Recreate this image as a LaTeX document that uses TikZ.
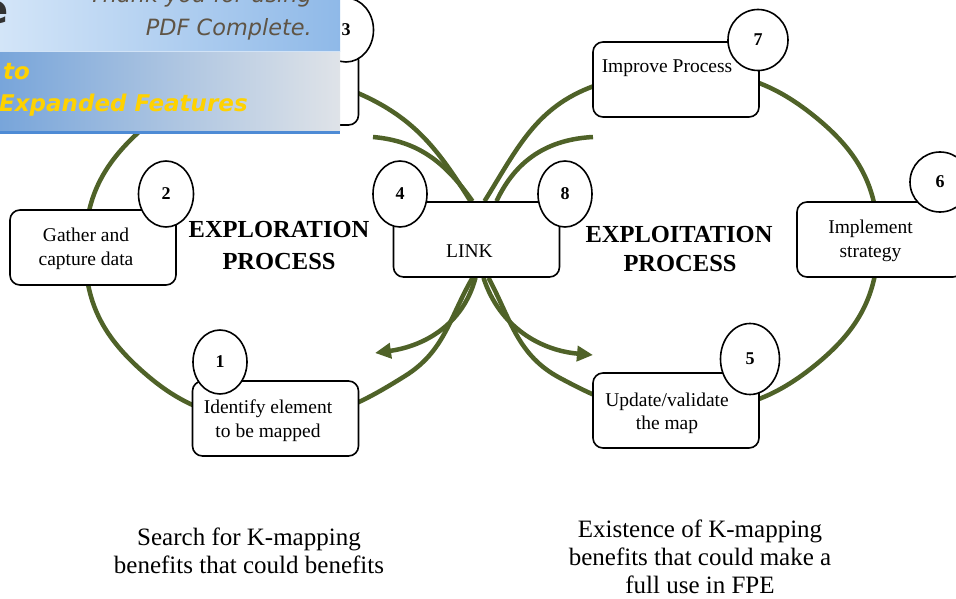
\documentclass[tikz,border=0pt]{standalone}
\usepackage{fontspec}
\setmainfont{Liberation Serif}
\newfontfamily\wmfont{DejaVu Sans}
\usetikzlibrary{arrows.meta,shapes.geometric,backgrounds}
\definecolor{lobegreen}{HTML}{4F6228}
\definecolor{wmA}{HTML}{D3E5F8}
\definecolor{wmB}{HTML}{8FB9E8}
\definecolor{wmC}{HTML}{78A5DA}
\definecolor{wmD}{HTML}{DFE3E8}
\definecolor{wmE}{HTML}{4E8BD5}
\definecolor{wmText}{HTML}{5F5445}
\definecolor{wmYellow}{HTML}{FFD200}
\begin{document}
\begin{tikzpicture}[x=1pt,y=1pt,
  lobe/.style={draw=lobegreen, line width=4.5pt},
  arr/.style={lobe, -{Triangle[length=16pt,width=15pt]}},
  box/.style={draw=black, line width=1.6pt, rounded corners=10pt, fill=white,
    minimum width=166pt, minimum height=75pt, inner sep=0pt},
  numc/.style={ellipse, draw=black, line width=1.6pt, fill=white, inner sep=0pt,
    font=\fontsize{18}{20}\selectfont\bfseries},
  btxt/.style={anchor=base, inner sep=0pt, font=\fontsize{19.5}{24}\selectfont},
  ttl/.style={anchor=base, inner sep=0pt, font=\fontsize{24.5}{30}\selectfont\bfseries},
  ftxt/.style={anchor=base, inner sep=0pt, font=\fontsize{25}{28}\selectfont},
  wmtxt/.style={inner sep=0pt, text=wmText, font=\wmfont\itshape\fontsize{22.4}{26}\selectfont},
  wmyel/.style={inner sep=0pt, anchor=base west, text=wmYellow, font=\wmfont\bfseries\itshape\fontsize{23}{26}\selectfont}
]
\useasboundingbox (0,0) rectangle (956,-599);

% ---------- boxes ----------
\node[box] (b3) at (275.5,-87.5) {};
\node[box] (b2) at (93,-247.5) {};
\node[box] (link) at (476.5,-239.5) {};
\node[box] (b1) at (275.5,-418.5) {};
\node[box] (b7) at (676,-79.5) {};
\node[box] (b6) at (880,-239.5) {};
\node[box] (b5) at (676,-410.5) {};

% ---------- box texts ----------
\node[btxt] (t2a) at (86,-241) {Gather and};
\node[btxt] (t2b) at (86,-265) {capture data};
\node[btxt] (tlink) at (469.5,-257) {LINK};
\node[btxt] (t1a) at (268,-413) {Identify element};
\node[btxt] (t1b) at (268,-437) {to be mapped};
\node[btxt] (t7) at (667,-73) {Improve Process};
\node[btxt] (t6a) at (870.5,-233) {Implement};
\node[btxt] (t6b) at (870.5,-257) {strategy};
\node[btxt] (t5a) at (667,-406) {Update/validate};
\node[btxt] (t5b) at (667,-429) {the map};

% ---------- number circles ----------
\node[numc, minimum width=54pt, minimum height=64pt] (c1) at (220,-362) {1};
\node[numc, minimum width=55pt, minimum height=66pt] (c2) at (166,-194) {2};
\node[numc, minimum width=55pt, minimum height=64pt] (c3) at (346,-30) {3};
\node[numc, minimum width=54pt, minimum height=66pt] (c4) at (400,-194) {4};
\node[numc, minimum width=59pt, minimum height=71pt] (c5) at (750,-359) {5};
\node[numc, minimum width=60pt, minimum height=60pt] (c6) at (940,-182) {6};
\node[numc, minimum width=60pt, minimum height=61pt] (c7) at (758,-40) {7};
\node[numc, minimum width=54pt, minimum height=66pt] (c8) at (565,-194) {8};

% ---------- titles ----------
\node[ttl] (ex1) at (279,-237) {EXPLORATION};
\node[ttl] (ex2) at (279,-269) {PROCESS};
\node[ttl] (ep1) at (679,-242) {EXPLOITATION};
\node[ttl] (ep2) at (680,-271) {PROCESS};

% ---------- footers ----------
\node[ftxt] (f1a) at (249,-545) {Search for K-mapping};
\node[ftxt] (f1b) at (249,-573) {benefits that could benefits};
\node[ftxt] (f2a) at (700,-537) {Existence of K-mapping};
\node[ftxt] (f2b) at (700,-565) {benefits that could make a};
\node[ftxt] (f2c) at (700,-593) {full use in FPE};

% ---------- loop coordinates ----------
\coordinate (L1) at (360,-94);
\coordinate (L2) at (275,-80);
\coordinate (L3) at (141,-130);
\coordinate (L4) at (85,-250);
\coordinate (L5) at (141,-370);
\coordinate (L6) at (275,-420);
\coordinate (L7) at (405,-376);
\coordinate (R1) at (594,-86);
\coordinate (R2) at (676,-70);
\coordinate (R3) at (819,-120);
\coordinate (R4) at (878,-241);
\coordinate (R5) at (819,-362);
\coordinate (R6) at (676,-412);
\coordinate (R7) at (560,-378);
\coordinate (IL) at (373,-137);
\coordinate (IR) at (593,-137);
\coordinate (AL) at (375,-353);
\coordinate (AR) at (593,-355);

\begin{scope}[on background layer]
  % exploration loop
  \draw[lobe] ([xshift=-6pt]link.north) to[out=122,in=-24] (L1)
    to[out=156,in=0] (L2) to[out=180,in=42] (L3) to[out=222,in=90] (L4)
    to[out=270,in=138] (L5) to[out=318,in=180] (L6) to[out=0,in=212] (L7)
    to[out=32,in=240] ([xshift=-4pt]link.south);
  % exploitation loop
  \draw[lobe] ([xshift=8pt]link.north) to[out=58,in=200] (R1)
    to[out=20,in=180] (R2) to[out=0,in=140] (R3) to[out=320,in=90] (R4)
    to[out=270,in=40] (R5) to[out=220,in=0] (R6) to[out=180,in=-28] (R7)
    to[out=152,in=-62] ([xshift=12pt]link.south);
  % inner arcs
  \draw[lobe] (IL) to[out=-5,in=125] ([xshift=-4pt]link.north);
  \draw[lobe] (IR) to[out=183,in=65] ([xshift=20pt]link.north);
  % arrows
  \draw[arr] ([xshift=-1pt]link.south) to[out=-105,in=8] (AL);
  \draw[arr] ([xshift=7pt]link.south) to[out=-72,in=175] (AR);
\end{scope}

% ---------- PDF Complete banner ----------
\shade[left color=wmA, right color=wmB] (0,0) rectangle (340,-52);
\shade[left color=wmC, right color=wmD] (0,-52) rectangle (340,-131);
\draw[wmB!40!white, line width=1pt] (0,-52) -- (340,-52);
\fill[wmE] (0,-131) rectangle (340,-134);
\node[inner sep=0pt, anchor=base east, text=black!80, font=\wmfont\bfseries\fontsize{40}{40}\selectfont] (wm0) at (9,-24) {e};
\node[wmtxt, anchor=base east] (wm1) at (312,-3) {Thank you for using};
\node[wmtxt, anchor=base east] (wm2) at (312,-36) {PDF Complete.};
\node[wmyel] (wm3) at (3,-80) {to};
\node[wmyel] (wm4) at (-1,-112) {Expanded Features};
\end{tikzpicture}
\end{document}
